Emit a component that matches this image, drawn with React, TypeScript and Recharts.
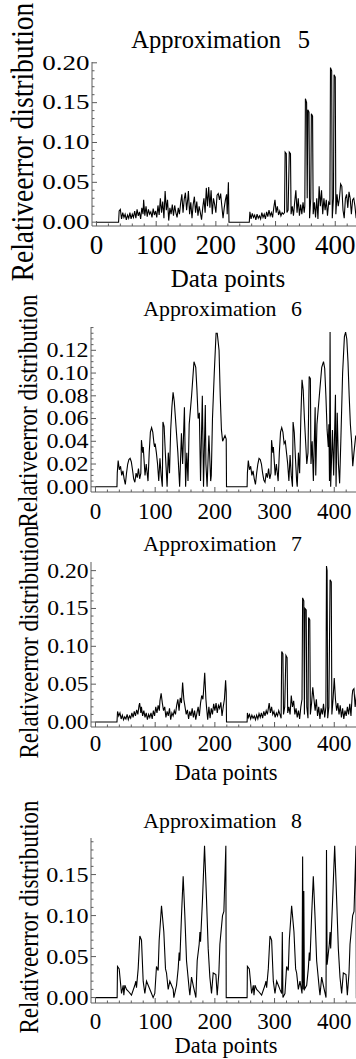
import { LineChart, Line, XAxis, YAxis } from "recharts";

const SERIF = "'Liberation Serif', 'Times New Roman', serif";
const FRAME = "#5c5c5c";

const xLabels = [0, 100, 200, 300, 400];
const xMinor = [20, 40, 60, 80, 120, 140, 160, 180, 220, 240, 260, 280, 320, 340, 360, 380, 420, 440];

const yLabels5 = [0, 0.05, 0.1, 0.15, 0.2];
const yMinor5 = [0.01, 0.02, 0.03, 0.04, 0.06, 0.07, 0.08, 0.09, 0.11, 0.12, 0.13, 0.14, 0.16, 0.17, 0.18, 0.19];
const yLabels6 = [0, 0.02, 0.04, 0.06, 0.08, 0.1, 0.12];
const yMinor6 = [0.005, 0.01, 0.015, 0.025, 0.03, 0.035, 0.045, 0.05, 0.055, 0.065, 0.07, 0.075, 0.085, 0.09, 0.095, 0.105, 0.11, 0.115, 0.125, 0.13, 0.135, 0.14];
const yLabels8 = [0, 0.05, 0.1, 0.15];
const yMinor8 = [0.01, 0.02, 0.03, 0.04, 0.06, 0.07, 0.08, 0.09, 0.11, 0.12, 0.13, 0.14, 0.16, 0.17, 0.18, 0.19];

// [data point, relative error]
const approx5: [number, number][] = [
  [0, 0], [37, 0], [38, 0.014], [40, 0.016], [42, 0.004], [44, 0.012], [46, 0.006], [48, 0.01], [50, 0.003], [52, 0.009],
  [54, 0.005], [56, 0.012], [58, 0.004], [60, 0.01], [62, 0.006], [64, 0.014], [66, 0.005], [68, 0.016], [70, 0.008], [72, 0.013],
  [74, 0.004], [76, 0.018], [78, 0.01], [79, 0.028], [81, 0.008], [83, 0.02], [85, 0.007], [87, 0.016], [89, 0.01], [91, 0.013],
  [93, 0.006], [95, 0.017], [97, 0.009], [99, 0.014], [101, 0.006], [103, 0.021], [105, 0.009], [107, 0.03], [109, 0.012], [111, 0.026],
  [113, 0.005], [115, 0.039], [117, 0.015], [119, 0.028], [121, 0.002], [123, 0.018], [125, 0.01], [127, 0.022], [129, 0.008], [131, 0.021],
  [133, 0.012], [135, 0.006], [137, 0.018], [139, 0.01], [141, 0.024], [143, 0.035], [145, 0.012], [147, 0.029], [149, 0.037], [151, 0.015],
  [153, 0.03], [154, 0.039], [156, 0.01], [158, 0.025], [160, 0.005], [162, 0.022], [164, 0.032], [166, 0.012], [168, 0.026], [170, 0.008],
  [172, 0.02], [174, 0.012], [176, 0.003], [178, 0.018], [180, 0.03], [182, 0.012], [184, 0.043], [186, 0.02], [188, 0.044], [190, 0.018],
  [192, 0.04], [194, 0.01], [196, 0.03], [198, 0.022], [200, 0.012], [202, 0.034], [204, 0.036], [206, 0.028], [208, 0.036], [210, 0.02],
  [212, 0.005], [214, 0.018], [216, 0.028], [218, 0.035], [219, 0.01], [220, 0.03], [221, 0.05], [222, 0], [256, 0],
  [257, 0.013], [259, 0.004], [261, 0.011], [263, 0.006], [265, 0.009], [267, 0.003], [269, 0.01], [271, 0.005], [273, 0.008], [275, 0.004],
  [277, 0.012], [279, 0.006], [281, 0.01], [283, 0.004], [285, 0.013], [287, 0.007], [289, 0.015], [291, 0.008], [293, 0.012], [295, 0.006],
  [297, 0.018], [299, 0.028], [301, 0.012], [303, 0.02], [305, 0.009], [307, 0.014], [309, 0.008], [311, 0.012], [313, 0.01], [315, 0.012],
  [316, 0.088], [318, 0.086], [319, 0.012], [321, 0.015], [323, 0.088], [325, 0.086], [326, 0.01], [328, 0.02], [330, 0.008], [332, 0.025],
  [334, 0.04], [336, 0.012], [338, 0.03], [340, 0.008], [342, 0.022], [344, 0.01], [346, 0.025], [348, 0.012], [349, 0.02], [350, 0.155],
  [352, 0.15], [353, 0.03], [354, 0.141], [356, 0.138], [357, 0.005], [359, 0.03], [360, 0.136], [362, 0.133], [363, 0.01], [365, 0.025],
  [367, 0.006], [369, 0.03], [371, 0.004], [373, 0.045], [375, 0.02], [377, 0.04], [379, 0.01], [381, 0.03], [383, 0.015], [385, 0.028],
  [387, 0.008], [389, 0.025], [391, 0.022], [392, 0.194], [394, 0.19], [395, 0.005], [397, 0.03], [398, 0.185], [400, 0.182], [401, 0.01],
  [403, 0.035], [405, 0.02], [407, 0.03], [409, 0.048], [411, 0.045], [413, 0.015], [415, 0.005], [417, 0.03], [419, 0.035], [421, 0.018],
  [423, 0.038], [425, 0.03], [427, 0.01], [429, 0.028], [431, 0.03], [433, 0.02], [435, 0.005], [437, 0.025], [440, 0.035], [442, 0.03], [445, 0.012],
];

const approx6: [number, number][] = [
  [0, 0], [36, 0], [36.5, 0.012], [38, 0.023], [40, 0.015], [42, 0.018], [44, 0.01], [46, 0.014], [48, 0.007], [50, 0.002],
  [52, 0.012], [54, 0.02], [56, 0.024], [58, 0.025], [60, 0.022], [62, 0.015], [64, 0.007], [66, 0.004],
  [68, 0.012], [70, 0.008], [72, 0.016], [74, 0.007], [76, 0.012], [77, 0.041], [79, 0.03], [80, 0.035], [83, 0.01], [85, 0.02], [88, 0.005],
  [90, 0.03], [92, 0.048], [94, 0.052], [96, 0.048], [98, 0.038], [99, 0.035], [100, 0.038], [102, 0.03], [104, 0.02], [106, 0.005],
  [108, 0.025], [110, 0.01], [112, 0], [113, 0.057], [115, 0.053], [117, 0.03], [119, 0.01], [120, 0],
  [122, 0.03], [124, 0.012], [126, 0.05], [128, 0.07], [130, 0.083], [132, 0.075], [134, 0.06], [136, 0.045], [138, 0.03], [141, 0],
  [144, 0.047], [146, 0.02], [149, 0.07], [151, 0], [153, 0.03], [155, 0.005],
  [157, 0.055], [161, 0.08], [165, 0.11], [168, 0.105], [170, 0.085], [172, 0.06], [174, 0.065], [176, 0.005], [179, 0.08], [181, 0],
  [184, 0.072], [185, 0.02], [187, 0], [190, 0.045], [193, 0.005],
  [194, 0.01], [196, 0.06], [199, 0.1], [202, 0.135], [204, 0.135], [207, 0.12], [209, 0.08], [211, 0.05], [213, 0.04], [217, 0.045],
  [219, 0.042], [219.5, 0], [254, 0],
  [254.5, 0.012], [256, 0.023], [258, 0.015], [260, 0.018], [262, 0.01], [264, 0.014], [266, 0.007], [268, 0.002],
  [270, 0.012], [272, 0.02], [274, 0.025], [276, 0.024], [278, 0.02], [280, 0.012], [282, 0.006], [284, 0.004],
  [286, 0.012], [288, 0.008], [290, 0.016], [292, 0.007], [294, 0.012], [295, 0.041], [297, 0.03], [298, 0.035], [301, 0.01], [303, 0.02], [306, 0.005],
  [308, 0.03], [310, 0.048], [312, 0.052], [314, 0.048], [316, 0.038], [318, 0.04], [320, 0.03], [322, 0.02], [324, 0.005],
  [326, 0.028], [328, 0.01], [330, 0], [331, 0.057], [333, 0.048], [335, 0.025], [337, 0.005], [338, 0],
  [340, 0.03], [342, 0.012], [344, 0.06], [346, 0.094], [348, 0.085], [350, 0.06], [352, 0.04], [354, 0.02], [356, 0.03], [358, 0.097],
  [360, 0.095], [361, 0.02], [363, 0.04], [365, 0.005], [368, 0.07], [369, 0.01],
  [371, 0.055], [375, 0.08], [379, 0.105], [382, 0.11], [384, 0.104], [386, 0.08], [388, 0.05], [390, 0.035], [391, 0.055], [392, 0.005],
  [393, 0.136], [394, 0], [397, 0.05], [399, 0.01], [402, 0.081], [403, 0], [405, 0.065], [407, 0.02], [409, 0.003],
  [411, 0.04], [414, 0.1], [417, 0.132], [419, 0.136], [421, 0.13], [423, 0.11], [425, 0.08], [427, 0.055], [429, 0.04], [431, 0.018],
  [433, 0.03], [436, 0.045], [440, 0.04], [445, 0.035],
];

const approx7: [number, number][] = [
  [0, 0], [36, 0], [37, 0.014], [39, 0.008], [41, 0.012], [43, 0.004], [45, 0.009], [47, 0.003], [49, 0.007], [51, 0.004],
  [53, 0.01], [55, 0.003], [57, 0.008], [59, 0.005], [61, 0.012], [63, 0.006], [65, 0.014], [67, 0.008], [69, 0.016], [71, 0.01],
  [73, 0.022], [74, 0.025], [76, 0.012], [77, 0.02], [79, 0.008], [81, 0.015], [83, 0.006], [85, 0.012], [87, 0.003], [89, 0.01],
  [91, 0.006], [93, 0.012], [95, 0.004], [97, 0.015], [99, 0.008], [101, 0.02], [103, 0.012], [105, 0.022], [107, 0.015], [108, 0.028],
  [110, 0.038], [112, 0.025], [114, 0.015], [116, 0.02], [118, 0.006], [120, 0.014], [122, 0.008], [124, 0.018], [126, 0.003], [128, 0.012],
  [130, 0.008], [132, 0.015], [134, 0.01], [136, 0.022], [138, 0.03], [140, 0.015], [142, 0.032], [144, 0.025], [146, 0.052], [148, 0.03],
  [150, 0.02], [152, 0.01], [154, 0.016], [156, 0.004], [158, 0.014], [160, 0.008], [162, 0.018], [164, 0.006], [166, 0.015], [168, 0.003],
  [170, 0.012], [172, 0.02], [174, 0.008], [176, 0.025], [178, 0.035], [180, 0.03], [181, 0.04], [183, 0.065], [185, 0.03], [186, 0.02],
  [188, 0.003], [190, 0.02], [192, 0.005], [194, 0.018], [196, 0.01], [198, 0.024], [200, 0.015], [202, 0.025], [204, 0.012], [206, 0.022],
  [208, 0.018], [210, 0.026], [212, 0.008], [214, 0.02], [216, 0.03], [218, 0.055], [219, 0.04], [219.5, 0], [254, 0],
  [254.5, 0.012], [256, 0.006], [258, 0.01], [260, 0.004], [262, 0.009], [264, 0.005], [266, 0.008], [268, 0.003], [270, 0.009], [272, 0.004],
  [274, 0.011], [276, 0.006], [278, 0.012], [280, 0.005], [282, 0.014], [284, 0.008], [286, 0.015], [288, 0.01], [290, 0.02], [291, 0.025],
  [293, 0.012], [295, 0.02], [297, 0.01], [299, 0.014], [301, 0.006], [303, 0.012], [305, 0.008], [307, 0.015], [309, 0.01], [311, 0.005],
  [312, 0.093], [314, 0.09], [315, 0.01], [317, 0.02], [319, 0.088], [321, 0.085], [322, 0.012], [324, 0.02], [326, 0.01], [328, 0.035],
  [330, 0.02], [332, 0.028], [334, 0.01], [336, 0.018], [338, 0.006], [340, 0.015], [342, 0.004], [344, 0.02], [346, 0.03], [347, 0.164],
  [349, 0.16], [350, 0.01], [351, 0.15], [353, 0.148], [354, 0.02], [356, 0.005], [357, 0.138], [359, 0.135], [360, 0.01], [362, 0.025],
  [364, 0.046], [366, 0.03], [368, 0.015], [370, 0.03], [372, 0.008], [374, 0.02], [376, 0.004], [378, 0.018], [380, 0.01], [382, 0.024],
  [384, 0.006], [386, 0.02], [387, 0.206], [388, 0.2], [389, 0.005], [391, 0.02], [393, 0.188], [395, 0.185], [396, 0.01], [398, 0.03],
  [400, 0.058], [402, 0.03], [404, 0.015], [406, 0.025], [408, 0.01], [410, 0.022], [412, 0.006], [414, 0.018], [416, 0.004], [418, 0.015],
  [420, 0.008], [422, 0.02], [424, 0.01], [426, 0.024], [428, 0.008], [430, 0.035], [431, 0.042], [433, 0.044], [435, 0.02], [437, 0.035],
  [440, 0.03], [445, 0.02],
];

const approx8: [number, number][] = [
  [0, 0], [36.3, 0], [36.9, 0.038], [39.7, 0.035], [43.6, 0.005], [46.4, 0.015], [47.5, 0.003], [49.2, 0.015], [52, 0.01], [54.7, 0.008],
  [60.3, 0.003], [65.9, 0.015], [67.6, 0.02], [68.7, 0.012], [71.5, 0.035], [74.3, 0.075], [77.1, 0.07], [79.9, 0.02], [82.7, 0.005], [85.5, 0.02],
  [88.3, 0.015], [93.9, 0.005], [96.6, 0], [99.4, 0.005], [102.2, 0.038], [105, 0.033], [106.7, 0.07], [110.6, 0.112], [114.5, 0.08], [117.3, 0.035],
  [119, 0.03], [121.8, 0.01], [124.6, 0.02], [130.2, 0.01], [131.3, 0], [135.8, 0.015], [138.5, 0.035], [140.2, 0.055], [141.3, 0.045], [144.1, 0.1],
  [146.9, 0.148], [149.7, 0.1], [152.5, 0.045], [157, 0.01], [158.1, 0.003], [160.9, 0.025], [163.7, 0.015], [168.2, 0], [170.4, 0.045], [173.7, 0.065],
  [175, 0.08], [176, 0.068], [179.3, 0.12], [182.7, 0.185], [186, 0.12], [188.8, 0.06], [191.6, 0.025], [194.4, 0.005], [197.2, 0.03], [201.7, 0.028],
  [203.9, 0.003], [206.7, 0.03], [208.4, 0.065], [212.8, 0.1], [215.1, 0.105], [218.4, 0.185], [219, 0], [254, 0],
  [254.5, 0.038], [257.7, 0.035], [261.6, 0.005], [264.4, 0.015], [265.5, 0.003], [267.2, 0.015], [270, 0.01], [272.7, 0.008], [278.3, 0.003], [283.9, 0.015],
  [285.6, 0.02], [286.7, 0.012], [289.5, 0.035], [292.3, 0.075], [295.1, 0.07], [297.9, 0.02], [300.7, 0.005], [303.5, 0.02], [306.3, 0.015], [309, 0.01],
  [311.9, 0.005], [313, 0.08], [314, 0], [317.4, 0.005], [320.2, 0.038], [323, 0.033], [324.7, 0.07], [328.6, 0.112], [332.5, 0.08], [335.3, 0.035],
  [337, 0.03], [339.8, 0.01], [342.6, 0.02], [346, 0.005], [347, 0.172], [348, 0.01], [349, 0.13], [350, 0.01], [353.8, 0.015], [356.5, 0.035],
  [358.2, 0.055], [359.3, 0.045], [362.1, 0.1], [364.9, 0.148], [367.7, 0.1], [370.5, 0.045], [375, 0.01], [376.1, 0.003], [378.9, 0.025], [381.7, 0.015],
  [386.2, 0], [387, 0.18], [388, 0.04], [391.7, 0.065], [393, 0.08], [394, 0.06], [397.3, 0.12], [400.7, 0.185], [404, 0.12], [406.8, 0.06],
  [409.6, 0.025], [412.4, 0.005], [415.2, 0.03], [419.7, 0.028], [421.9, 0.003], [424.7, 0.03], [426.4, 0.065], [430.8, 0.1], [433.1, 0.105], [436.4, 0.185],
  [437, 0], [445, 0],
];

const xDomain: [number, number] = [-7.5, 444.8];
const PLOT_W = 270;
const PAD_TOP = 12;

interface PanelProps {
  points: [number, number][];
  top: number;
  plotH: number;
  axisW: number;
  yDomain: [number, number];
  yLabels: number[];
  yMinor: number[];
  xFont: number;
  xDy: number;
  yFont: number;
  ySx: number;
}

function Panel({ points, top, plotH, axisW, yDomain, yLabels, yMinor, xFont, xDy, yFont, ySx }: PanelProps) {
  const data = points.map(([x, y]) => ({ x, y }));
  const xTicks = [...xLabels, ...xMinor].sort((a, b) => a - b);
  const yTicks = [...yLabels, ...yMinor].sort((a, b) => a - b);

  const bottomTick = ({ x, y, payload }: any) => {
    const major = xLabels.includes(payload.value);
    return (
      <g>
        <line x1={x} x2={x} y1={y} y2={y - (major ? 5 : 2.5)} stroke={FRAME} />
        {major && (
          <text x={x} y={y + xDy} textAnchor="middle" fontSize={xFont} fontFamily={SERIF} fill="#000">
            {payload.value}
          </text>
        )}
      </g>
    );
  };

  const topTick = ({ x, y, payload }: any) => {
    const major = xLabels.includes(payload.value);
    return <line x1={x} x2={x} y1={y} y2={y + (major ? 5 : 2.5)} stroke={FRAME} />;
  };

  const leftTick = ({ x, y, payload }: any) => {
    const major = yLabels.includes(payload.value);
    return (
      <g>
        <line x1={x} x2={x + (major ? 5 : 2.5)} y1={y} y2={y} stroke={FRAME} />
        {major && (
          <text
            transform={`translate(${x - 2.5},${y + yFont * 0.34}) scale(${ySx},1)`}
            textAnchor="end"
            fontSize={yFont}
            fontFamily={SERIF}
            fill="#000"
          >
            {payload.value.toFixed(2)}
          </text>
        )}
      </g>
    );
  };

  return (
    <div style={{ position: "absolute", left: 0, top: top - PAD_TOP }}>
      <LineChart width={axisW + PLOT_W} height={plotH + PAD_TOP + 40} data={data} margin={{ top: PAD_TOP, right: 0, bottom: 0, left: 0 }}>
        <XAxis
          xAxisId="b"
          dataKey="x"
          type="number"
          domain={xDomain}
          allowDataOverflow
          ticks={xTicks}
          interval={0}
          tickSize={0}
          tickMargin={0}
          tickLine={false}
          height={40}
          stroke={FRAME}
          tick={bottomTick}
        />
        <XAxis
          xAxisId="t"
          orientation="top"
          dataKey="x"
          type="number"
          domain={xDomain}
          allowDataOverflow
          ticks={xTicks}
          interval={0}
          tickSize={0}
          tickMargin={0}
          tickLine={false}
          height={0}
          stroke={FRAME}
          tick={topTick}
        />
        <YAxis
          yAxisId="l"
          type="number"
          domain={yDomain}
          allowDataOverflow
          ticks={yTicks}
          interval={0}
          tickSize={0}
          tickMargin={0}
          tickLine={false}
          width={axisW}
          stroke={FRAME}
          tick={leftTick}
        />
        <Line
          xAxisId="b"
          yAxisId="l"
          type="linear"
          dataKey="y"
          stroke="#000"
          strokeWidth={1.1}
          dot={false}
          isAnimationActive={false}
        />
      </LineChart>
    </div>
  );
}

function Title({ x, y, size, dx, n }: { x: number; y: number; size: number; dx: number; n: string }) {
  return (
    <text x={x} y={y} fontSize={size} fontFamily={SERIF} fill="#000">
      Approximation<tspan dx={dx}> {n}</tspan>
    </text>
  );
}

function YTitle({ x, y, size, sy }: { x: number; y: number; size: number; sy: number }) {
  return (
    <text
      transform={`translate(${x},${y}) rotate(-90) scale(1,${sy})`}
      textAnchor="middle"
      fontSize={size}
      fontFamily={SERIF}
      fill="#000"
    >
      Relativeerror distribution
    </text>
  );
}

function XTitle({ x, y, size }: { x: number; y: number; size: number }) {
  return (
    <text x={x} y={y} textAnchor="middle" fontSize={size} fontFamily={SERIF} fill="#000">
      Data points
    </text>
  );
}

export default function App() {
  return (
    <div style={{ position: "absolute", left: 0, top: 0, width: 356, height: 1059, overflow: "hidden", background: "#fff" }}>
      <Panel points={approx5} top={62} plotH={164} axisW={92} yDomain={[-0.0048, 0.201]}
        yLabels={yLabels5} yMinor={yMinor5} xFont={27} xDy={27.5} yFont={20} ySx={1.35} />
      <Panel points={approx6} top={327} plotH={165} axisW={91} yDomain={[-0.0046, 0.1405]}
        yLabels={yLabels6} yMinor={yMinor6} xFont={23} xDy={27} yFont={20} ySx={1.2} />
      <Panel points={approx7} top={562} plotH={165} axisW={91} yDomain={[-0.0066, 0.2114]}
        yLabels={yLabels5} yMinor={yMinor5} xFont={23} xDy={23.5} yFont={20.5} ySx={1.15} />
      <Panel points={approx8} top={838} plotH={165} axisW={91} yDomain={[-0.0066, 0.1946]}
        yLabels={yLabels8} yMinor={yMinor8} xFont={23} xDy={25.5} yFont={21} ySx={1.15} />
      <svg width={356} height={1059} style={{ position: "absolute", left: 0, top: 0, pointerEvents: "none" }}>
        <Title x={131.3} y={48} size={24.5} dx={10.5} n="5" />
        <Title x={143.3} y={315.7} size={21.8} dx={9} n="6" />
        <Title x={143.3} y={551} size={21.8} dx={9} n="7" />
        <Title x={143.3} y={828} size={21.8} dx={9} n="8" />
        <XTitle x={228} y={287} size={25} />
        <XTitle x={226} y={780} size={22.5} />
        <XTitle x={226} y={1053} size={22.5} />
        <YTitle x={33.3} y={142} size={27.5} sy={1.15} />
        <YTitle x={37.3} y={411} size={23} sy={1.2} />
        <YTitle x={38} y={642} size={23} sy={1.2} />
        <YTitle x={38} y={917} size={23} sy={1.2} />
      </svg>
    </div>
  );
}
